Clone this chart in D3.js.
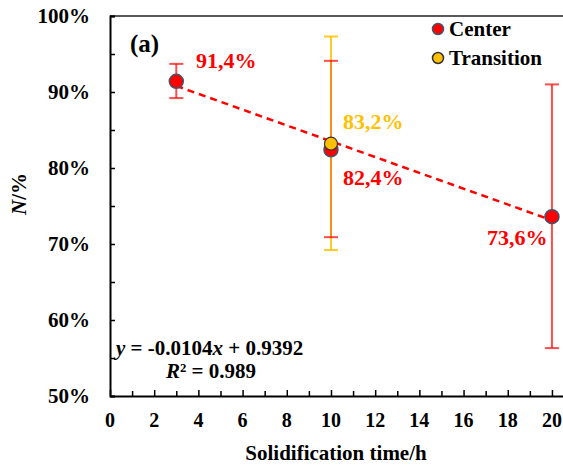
<!DOCTYPE html>
<html>
<head>
<meta charset="utf-8">
<script src="https://cdn.jsdelivr.net/npm/d3@7"></script>
<style>
  body { margin: 0; background: #fff; }
</style>
</head>
<body>
<div id="chart"></div>
<script>
// data
const timeCenter = [3, 10, 20];
const valCenter = [0.914, 0.824, 0.736];
const errLowCenter = [0.892, 0.709, 0.563];
const errHighCenter = [0.937, 0.941, 0.910];
const labelCenter = ["91,4%", "82,4%", "73,6%"];

const timeTransition = [10];
const valTransition = [0.832];
const errLowTransition = [0.692];
const errHighTransition = [0.973];
const labelTransition = ["83,2%"];

const fitSlope = -0.0104, fitIntercept = 0.9392;
const xTicks = [0, 2, 4, 6, 8, 10, 12, 14, 16, 18, 20];
const yTicks = [0.5, 0.6, 0.7, 0.8, 0.9, 1.0];

const W = 563, H = 470;
const margin = { top: 16, right: 0, bottom: 74, left: 110 };
const FONT = "Liberation Serif";

const svg = d3.select("#chart").append("svg")
  .attr("width", W).attr("height", H);

const x = d3.scaleLinear().domain([0, 20.5]).range([margin.left, W - margin.right]);
const y = d3.scaleLinear().domain([0.5, 1.0]).range([H - margin.bottom, margin.top]);

const red = "#ff0000", yellow = "#ffc000", edge = "#44546a";

// every text in the figure is bold serif
function label(parent, size) {
  return parent.append("text")
    .attr("font-family", FONT).attr("font-weight", "bold").attr("font-size", size);
}

// top border
svg.append("line")
  .attr("x1", x(0)).attr("x2", W).attr("y1", y(1)).attr("y2", y(1))
  .attr("stroke", "#222").attr("stroke-width", 1.5);

// y axis with inside ticks
const yAxis = svg.append("g")
  .attr("transform", `translate(${x(0)},0)`)
  .call(d3.axisRight(y).tickValues(d3.range(0.5, 1.0001, 0.05)).tickSize(5).tickFormat(""));
yAxis.select(".domain").attr("stroke-width", 2);
yAxis.selectAll(".tick line").attr("stroke-width", 1.5);

svg.append("g").selectAll("text").data(yTicks).join("text")
  .attr("font-family", FONT).attr("font-weight", "bold").attr("font-size", 21)
  .attr("x", 90).attr("y", d => y(d)).attr("dy", "0.35em")
  .attr("text-anchor", "end")
  .text(d => d3.format(".0%")(d));

// x axis with inside ticks
const xAxis = svg.append("g")
  .attr("transform", `translate(0,${y(0.5)})`)
  .call(d3.axisTop(x).tickValues(d3.range(0, 21, 1)).tickSize(5).tickSizeOuter(0).tickFormat(""));
xAxis.select(".domain").attr("stroke-width", 2);
xAxis.selectAll(".tick line").attr("stroke-width", 1.5)
  .attr("y2", d => d % 2 === 0 ? -6 : -5);

svg.append("g").selectAll("text").data(xTicks).join("text")
  .attr("font-family", FONT).attr("font-weight", "bold").attr("font-size", 20)
  .attr("x", d => x(d)).attr("y", 427)
  .attr("text-anchor", "middle")
  .text(d => d);

// axis titles
label(svg, 21)
  .attr("x", 336).attr("y", 460).attr("text-anchor", "middle")
  .text("Solidification time/h");

const yTitle = label(svg, 21)
  .attr("transform", "translate(26,194) rotate(-90)")
  .attr("text-anchor", "middle");
yTitle.append("tspan").attr("font-style", "italic").text("N");
yTitle.append("tspan").text("/%");

// trend line
svg.append("line")
  .attr("x1", x(3)).attr("y1", y(fitSlope * 3 + fitIntercept))
  .attr("x2", x(20)).attr("y2", y(fitSlope * 20 + fitIntercept))
  .attr("stroke", red).attr("stroke-width", 2.5).attr("stroke-dasharray", "7,5");

function errorBars(xs, lo, hi, color, stemOpacity, capOpacity) {
  const g = svg.append("g").attr("stroke", color).attr("stroke-width", 2);
  xs.forEach((t, i) => {
    g.append("line").attr("x1", x(t)).attr("x2", x(t)).attr("y1", y(lo[i])).attr("y2", y(hi[i]))
      .attr("stroke-opacity", stemOpacity(t));
    [lo[i], hi[i]].forEach(v => {
      g.append("line").attr("x1", x(t) - 7).attr("x2", x(t) + 7).attr("y1", y(v)).attr("y2", y(v))
        .attr("stroke-opacity", capOpacity);
    });
  });
}

errorBars(timeTransition, errLowTransition, errHighTransition, yellow, () => 0.85, 0.85);
// the centre bar at 10 h sits on top of the transition bar and blends to orange
errorBars(timeCenter, errLowCenter, errHighCenter, red, t => t === 10 ? 0.3 : 0.7, 0.7);

// markers
svg.append("g").selectAll("circle").data(timeCenter).join("circle")
  .attr("cx", d => x(d)).attr("cy", (d, i) => y(valCenter[i])).attr("r", 7)
  .attr("fill", red).attr("stroke", edge).attr("stroke-width", 1.5);
svg.append("g").selectAll("circle").data(timeTransition).join("circle")
  .attr("cx", d => x(d)).attr("cy", (d, i) => y(valTransition[i])).attr("r", 6.5)
  .attr("fill", yellow).attr("stroke", "#333").attr("stroke-width", 1.2);

// value labels
const centerLabelPos = [[196, 68], [343, 185], [487, 245]];
labelCenter.forEach((t, i) => {
  label(svg, 22).attr("x", centerLabelPos[i][0]).attr("y", centerLabelPos[i][1])
    .attr("fill", red).text(t);
});
label(svg, 22).attr("x", 343).attr("y", 129).attr("fill", yellow).text(labelTransition[0]);

// panel tag
label(svg, 25).attr("x", 130).attr("y", 52).text("(a)");

// equation
const eq = label(svg, 21).attr("x", 116).attr("y", 355);
eq.append("tspan").attr("font-style", "italic").text("y");
eq.append("tspan").text(` = ${fitSlope}`);
eq.append("tspan").attr("font-style", "italic").text("x");
eq.append("tspan").text(` + ${fitIntercept}`);
const r2 = label(svg, 21).attr("x", 166).attr("y", 378);
r2.append("tspan").attr("font-style", "italic").text("R");
r2.append("tspan").text("² = 0.989");

// legend
const legend = [["Center", red, edge], ["Transition", yellow, "#333"]];
legend.forEach(([name, fill, stroke], i) => {
  const ly = 29 + i * 29;
  svg.append("circle").attr("cx", 438).attr("cy", ly).attr("r", 5.5)
    .attr("fill", fill).attr("stroke", stroke).attr("stroke-width", 1.5);
  label(svg, 21).attr("x", 449).attr("y", ly + 7).text(name);
});
</script>
</body>
</html>
